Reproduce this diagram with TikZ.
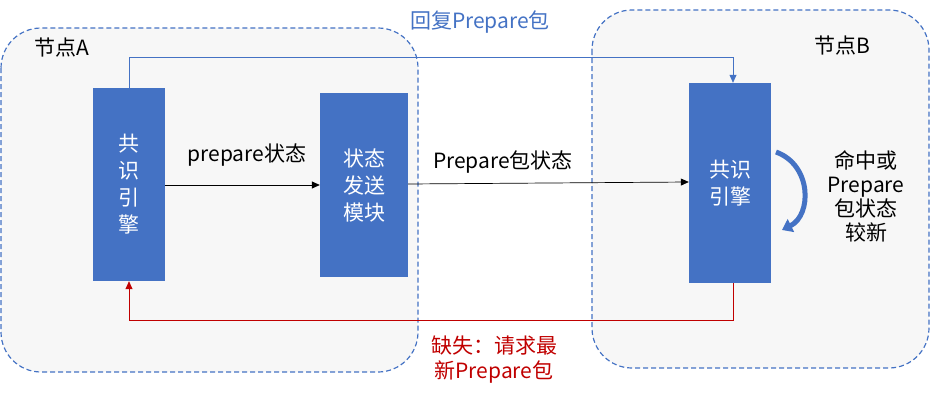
\documentclass[tikz,border=0pt]{standalone}
\usepackage{fontspec}
\setmainfont{Noto Sans CJK SC}
\usetikzlibrary{arrows.meta}
\definecolor{bl}{HTML}{4472C4}
\definecolor{rd}{HTML}{C00000}
\begin{document}
\begin{tikzpicture}[x=1pt,y=-1pt,
  region/.style={draw=bl,dash pattern=on 5pt off 3pt,line width=1.2pt,fill=black!3,rounded corners=40pt},
  blk/.style={fill=bl,text=white,font=\fontsize{21}{27}\selectfont,align=center,inner sep=0pt},
  lbl/.style={font=\fontsize{21}{25}\selectfont,align=center},
  arr/.style={-{Triangle[length=8pt,width=7pt]},line width=0.7pt}]
\useasboundingbox (0,0) rectangle (930,407);
\draw[region] (1,28) rectangle (418,372);
\draw[region] (592,10) rectangle (929,368);
\node[lbl] (la) at (62,48) {节点A};
\node[lbl] (lb) at (842,46) {节点B};
\node[blk,minimum width=72pt,minimum height=193pt] (b1) at (129,184.5) {共\\识\\引\\擎};
\node[blk,minimum width=88pt,minimum height=184pt] (b2) at (364,185) {状态\\发送\\模块};
\node[blk,minimum width=82pt,minimum height=200pt] (b3) at (730,183) {共识\\引擎};
\draw[arr] (b1.east|-0,185) -- (b2.west|-0,185);
\node[lbl] (pl) at (247,155) {prepare状态};
\draw[arr] (b2.east|-0,184) -- (b3.west|-0,182);
\node[lbl] (ql) at (503,162) {Prepare包状态};
\coordinate (t1) at (129,57);
\coordinate (t3) at (733,57);
\draw[arr,bl] (b1.north) -- (t1) -- (t3) -- (b3.north-|t3);
\node[lbl,text=bl] (rl) at (480,22) {回复Prepare包};
\coordinate (r3) at (733,320);
\coordinate (r1) at (129,320);
\draw[arr,rd] (b3.south-|r3) -- (r3) -- (r1) -- (b1.south);
\node[lbl,text=rd] (ml) at (494,360) {缺失：请求最\\新Prepare包};
\coordinate (c1) at (776,152);
\coordinate (c2) at (782,230);
\draw[bl,line width=5pt,-{Triangle[length=10pt,width=14pt]}] (c1) .. controls (812,165) and (812,215) .. (c2);
\node[lbl,font=\fontsize{21}{24}\selectfont] (hl) at (866,196) {命中或\\Prepare\\包状态\\较新};
\end{tikzpicture}
\end{document}
